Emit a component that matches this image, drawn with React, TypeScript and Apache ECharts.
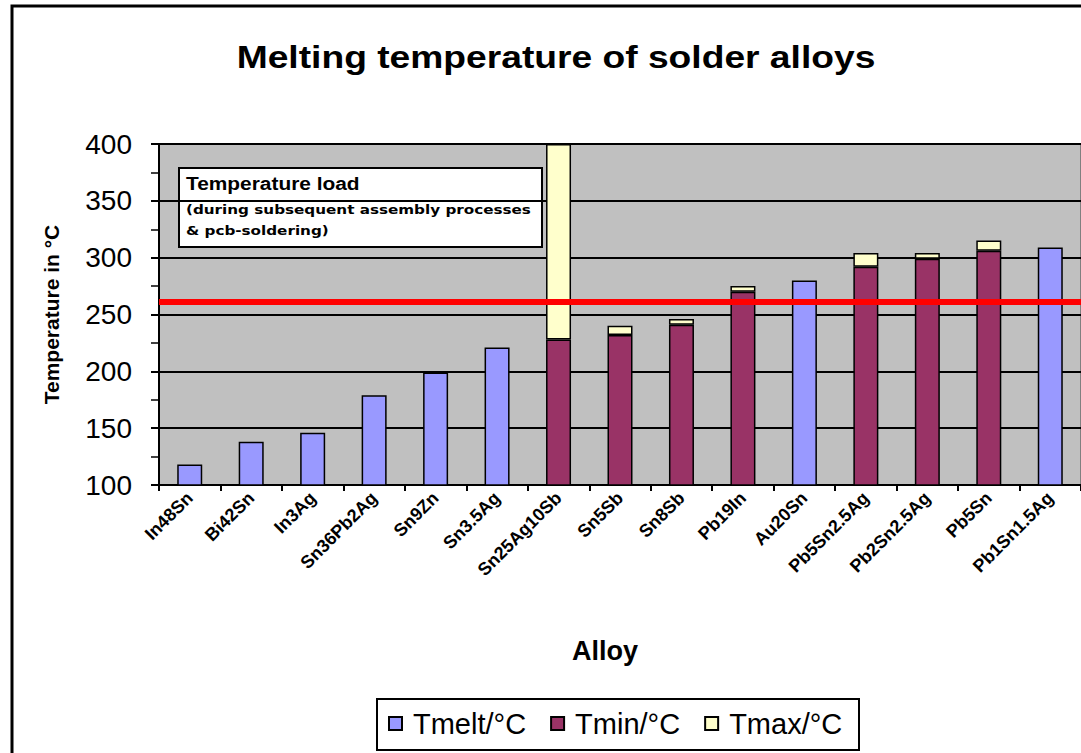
import React, { useEffect, useRef } from "react";
import * as echarts from "echarts";

const categories = [
  "In48Sn", "Bi42Sn", "In3Ag", "Sn36Pb2Ag", "Sn9Zn", "Sn3.5Ag", "Sn25Ag10Sb", "Sn5Sb",
  "Sn8Sb", "Pb19In", "Au20Sn", "Pb5Sn2.5Ag", "Pb2Sn2.5Ag", "Pb5Sn", "Pb1Sn1.5Ag",
];
const tMelt = [118, 138, 146, 179, 199, 221, null, null, null, null, 280, null, null, null, 309];
const tMin = [null, null, null, null, null, null, 228, 232, 241, 270, null, 292, 299, 306, null];
const tMax = [null, null, null, null, null, null, 400, 240, 246, 275, null, 304, 304, 315, null];
const temperatureLoad = 261;
const yMin = 100;
const yMax = 400;
const yStep = 50;

const FONT = "'Liberation Sans', Arial, sans-serif";

export default function App() {
  const ref = useRef<HTMLDivElement>(null);
  useEffect(() => {
    if (!ref.current) return;
    const chart = echarts.init(ref.current, null, { renderer: "svg" });
    const tMaxPart = tMax.map((v, i) => (v == null || tMin[i] == null ? null : v - (tMin[i] as number)));
    const barBase = { type: "bar", stack: "T", barWidth: 25 };
    chart.setOption({
      animation: false,
      backgroundColor: "#ffffff",
      grid: {
        left: 159,
        right: 0,
        top: 144,
        bottom: 268,
        show: true,
        backgroundColor: "#C0C0C0",
        borderColor: "#808080",
        borderWidth: 2,
      },
      legend: {
        left: 388,
        top: 709,
        padding: 0,
        itemWidth: 13,
        itemHeight: 13,
        itemGap: 24,
        icon: "rect",
        textStyle: { fontFamily: FONT, fontSize: 29, color: "#000", padding: [0, 0, 0, 6] },
        data: ["Tmelt/°C", "Tmin/°C", "Tmax/°C"],
      },
      xAxis: {
        type: "category",
        data: categories,
        name: "Alloy",
        nameLocation: "middle",
        nameGap: 152,
        nameTextStyle: {
          fontFamily: FONT,
          fontSize: 27,
          fontWeight: "bold",
          color: "#000",
          padding: [0, 30, 0, 0],
        },
        axisLine: { lineStyle: { color: "#000", width: 2 } },
        axisTick: { show: true, length: 6, lineStyle: { color: "#000", width: 2 } },
        axisLabel: {
          interval: 0,
          rotate: 45,
          margin: 10,
          fontFamily: FONT,
          fontSize: 18,
          fontWeight: "bold",
          color: "#000",
        },
      },
      yAxis: {
        type: "value",
        min: yMin,
        max: yMax,
        interval: yStep,
        name: "Temperature in °C",
        nameLocation: "middle",
        nameGap: 97,
        nameTextStyle: { fontFamily: FONT, fontSize: 21, fontWeight: "bold", color: "#000" },
        axisLine: { show: true, lineStyle: { color: "#000", width: 2 } },
        axisTick: { show: true, length: 8, lineStyle: { color: "#000", width: 2 } },
        minorTick: { show: true, splitNumber: 2, length: 8, lineStyle: { color: "#000", width: 1.5 } },
        splitLine: { show: true, lineStyle: { color: "#000", width: 2 } },
        axisLabel: { fontFamily: FONT, fontSize: 28, color: "#000", margin: 27 },
      },
      graphic: [
        {
          type: "text",
          x: 556,
          y: 57,
          scaleX: 1.2,
          style: {
            text: "Melting temperature of solder alloys",
            font: `bold 31px ${FONT}`,
            fill: "#000",
            align: "center",
            verticalAlign: "middle",
          },
        },
        {
          type: "rect",
          shape: { x: 12, y: 6, width: 1200, height: 900 },
          style: { fill: "transparent", stroke: "#000", lineWidth: 3 },
          z: 100,
        },
        {
          type: "rect",
          shape: { x: 377, y: 699, width: 482, height: 51 },
          style: { fill: "#fff", stroke: "#000", lineWidth: 2 },
          z: -1,
        },
        {
          type: "group",
          z: 50,
          children: [
            {
              type: "rect",
              shape: { x: 179, y: 168, width: 363, height: 79 },
              style: { fill: "#fff", stroke: "#000", lineWidth: 2 },
            },
            {
              type: "text",
              x: 186,
              y: 175,
              scaleX: 1.16,
              style: { text: "Temperature load", font: `bold 18px ${FONT}`, fill: "#000" },
            },
            {
              type: "text",
              x: 186,
              y: 203,
              scaleX: 1.17,
              style: { text: "(during subsequent assembly processes", font: `bold 13px 'DejaVu Sans', sans-serif`, fill: "#000" },
            },
            {
              type: "text",
              x: 186,
              y: 224,
              scaleX: 1.17,
              style: { text: "& pcb-soldering)", font: `bold 13px 'DejaVu Sans', sans-serif`, fill: "#000" },
            },
          ],
        },
      ],
      series: [
        {
          ...barBase,
          name: "Tmelt/°C",
          data: tMelt,
          itemStyle: { color: "#9999FF", borderColor: "#000", borderWidth: 1.5 },
        },
        {
          ...barBase,
          name: "Tmin/°C",
          data: tMin,
          itemStyle: { color: "#993366", borderColor: "#000", borderWidth: 1.5 },
        },
        {
          ...barBase,
          name: "Tmax/°C",
          data: tMaxPart,
          itemStyle: { color: "#FFFFCC", borderColor: "#000", borderWidth: 1.5 },
          markLine: {
            silent: true,
            symbol: "none",
            label: { show: false },
            lineStyle: { color: "#FF0000", width: 6, type: "solid" },
            data: [{ yAxis: temperatureLoad }],
          },
        },
      ],
    });
    return () => chart.dispose();
  }, []);
  return <div ref={ref} style={{ position: "fixed", left: 0, top: 0, width: 1081, height: 753 }} />;
}
